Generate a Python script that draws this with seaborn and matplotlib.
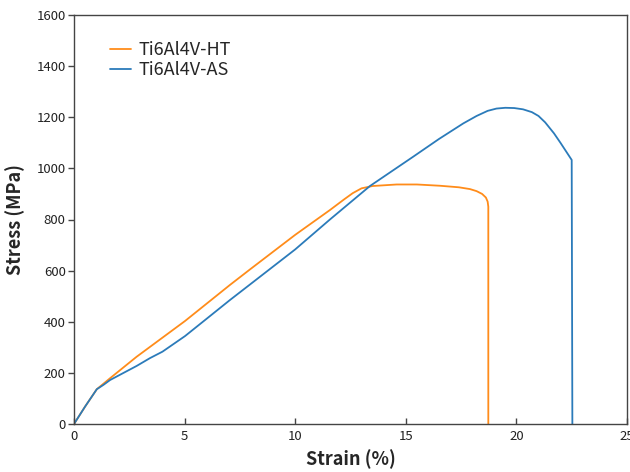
import matplotlib
matplotlib.use("Agg")
import matplotlib.pyplot as plt
import pandas as pd
import seaborn as sns

# stress-strain curves
ht_strain = [0, 0.5, 1.03, 1.63, 2.83, 5.02, 7.05, 7.96, 10, 11.57, 12.2, 12.6,
             13.0, 13.5, 14.59, 15.5, 16.55, 17.4, 17.9, 18.2, 18.45, 18.62, 18.7,
             18.73, 18.73]
ht_stress = [0, 68, 136, 179, 263, 403, 544, 605, 740, 837, 878, 903,
             922, 931, 937, 937, 932, 926, 919, 911, 900, 886, 870,
             850, 0]

as_strain = [0, 0.5, 1.03, 1.33, 1.63, 2.83, 3.44, 4.0, 5.02, 6.0, 7.05, 7.96, 10,
             11.57, 13.38, 15.34, 16.5, 17.6, 18.2, 18.7, 19.1, 19.5, 19.9, 20.3,
             20.7, 21.0, 21.3, 21.7, 22.0, 22.5, 22.53]
as_stress = [0, 68, 136, 153, 172, 227, 258, 283, 344, 412, 485, 546, 683,
             800, 931, 1046, 1115, 1176, 1205, 1225, 1234, 1237, 1236, 1231,
             1220, 1205, 1180, 1137, 1099, 1033, 0]

labels = ["Ti6Al4V-HT", "Ti6Al4V-AS"]
colors = ["#ff8c1a", "#2b7bba"]

df = pd.concat([
    pd.DataFrame({"strain": ht_strain, "stress": ht_stress, "sample": labels[0]}),
    pd.DataFrame({"strain": as_strain, "stress": as_stress, "sample": labels[1]}),
])

sns.set_style("white")
plt.rcParams["font.family"] = ["Noto Sans CJK KR", "DejaVu Sans"]

fig = plt.figure(figsize=(6.3, 4.72), dpi=100)
ax = fig.add_axes([74 / 630, 48 / 472, 553 / 630, 409 / 472])

sns.lineplot(data=df, x="strain", y="stress", hue="sample", palette=colors,
             sort=False, estimator=None, lw=1.3, ax=ax)

ax.set_xlim(0, 25)
ax.set_ylim(0, 1600)
ax.set_xticks(range(0, 26, 5))
ax.set_yticks(range(0, 1601, 200))
ax.tick_params(axis="x", bottom=True, direction="in", length=4, width=1,
               labelsize=9.5, color="#444444", labelcolor="#222222", pad=4)
ax.tick_params(axis="y", left=True, direction="out", length=4, width=1,
               labelsize=9.5, color="#444444", labelcolor="#222222", pad=2)
for s in ax.spines.values():
    s.set_color("#444444")
    s.set_linewidth(1.0)

ax.set_xlabel("Strain (%)", fontsize=13, fontweight="bold", labelpad=5)
ax.set_ylabel("Stress (MPa)", fontsize=13, fontweight="bold", labelpad=8)

ax.legend(loc="upper left", bbox_to_anchor=(0.035, 0.975), frameon=False,
          fontsize=13, handlelength=1.2, handletextpad=0.4, labelspacing=0.1)

fig.savefig("out.png", dpi=100)
